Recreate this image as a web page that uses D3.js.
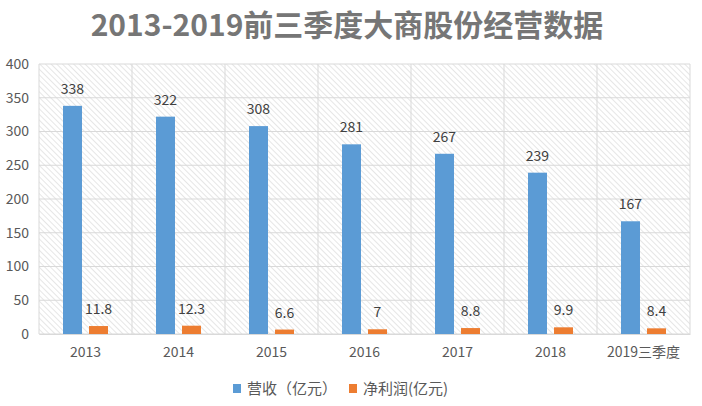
<!DOCTYPE html>
<html>
<head>
<meta charset="utf-8">
<script src="https://cdn.jsdelivr.net/npm/d3@7"></script>
<style>
  body { margin: 0; background: #fff; }
  svg text { font-family: "Noto Sans CJK SC", "Noto Sans", sans-serif; }
  .tick text { fill: #595959; font-size: 14px; }
  .bar-label { fill: #404040; font-size: 14px; text-anchor: middle; }
  .legend-text { fill: #595959; font-size: 15px; }
</style>
</head>
<body>
<script>
// data
const categories = ["2013", "2014", "2015", "2016", "2017", "2018", "2019三季度"];
const revenue = [338, 322, 308, 281, 267, 239, 167];
const profit = [11.8, 12.3, 6.6, 7, 8.8, 9.9, 8.4];
const seriesNames = ["营收（亿元）", "净利润(亿元)"];
const yTicks = [0, 50, 100, 150, 200, 250, 300, 350, 400];

const width = 702, height = 406,
  margin = {top: 64, right: 12, bottom: 72, left: 39};
const colors = ["#5b9bd5", "#ed7d31"];

const svg = d3.select("body").append("svg")
  .attr("width", width)
  .attr("height", height);

// diagonal hatch for the plot background
const defs = svg.append("defs");
const pat = defs.append("pattern")
  .attr("id", "hatch")
  .attr("patternUnits", "userSpaceOnUse")
  .attr("width", 4)
  .attr("height", 4)
  .attr("patternTransform", "rotate(-45)");
pat.append("rect").attr("width", 4).attr("height", 4).attr("fill", "#fff");
pat.append("line")
  .attr("x1", 0).attr("y1", 0).attr("x2", 0).attr("y2", 4)
  .attr("stroke", "#d9d9d9").attr("stroke-width", 1.3);

const innerW = width - margin.left - margin.right,
  innerH = height - margin.top - margin.bottom;

const g = svg.append("g").attr("transform", `translate(${margin.left},${margin.top})`);

let x0 = d3.scaleBand().domain(categories).range([0, innerW]).paddingInner(0).paddingOuter(0);
let x1 = d3.scaleBand().domain([0, 1]).range([24, x0.bandwidth() - 24]).paddingInner(0.27);
let y = d3.scaleLinear().domain([0, 400]).range([innerH, 0]);

g.append("rect")
  .attr("width", innerW).attr("height", innerH)
  .attr("fill", "url(#hatch)");

// horizontal gridlines
g.selectAll(".hgrid").data(yTicks).enter().append("line")
  .attr("x1", 0).attr("x2", innerW)
  .attr("y1", d => y(d)).attr("y2", d => y(d))
  .attr("stroke", "#d9d9d9").attr("stroke-width", 1);

// vertical gridlines at category edges
g.selectAll(".vgrid").data(categories.concat(["end"])).enter().append("line")
  .attr("x1", (d, i) => i * x0.step()).attr("x2", (d, i) => i * x0.step())
  .attr("y1", 0).attr("y2", innerH)
  .attr("stroke", "#d9d9d9").attr("stroke-width", 1);

const groups = g.selectAll(".cat").data(categories).enter().append("g")
  .attr("transform", d => `translate(${x0(d)},0)`);

[revenue, profit].forEach((vals, s) => {
  groups.append("rect")
    .attr("x", x1(s))
    .attr("y", (d, i) => y(vals[i]))
    .attr("width", x1.bandwidth())
    .attr("height", (d, i) => innerH - y(vals[i]))
    .attr("fill", colors[s]);
  groups.append("text")
    .attr("class", "bar-label")
    .attr("x", x1(s) + x1.bandwidth() / 2)
    .attr("y", (d, i) => y(vals[i]) - 12)
    .text((d, i) => vals[i]);
});

// axes
const xAxis = g.append("g")
  .attr("transform", `translate(0,${innerH})`)
  .call(d3.axisBottom(x0).tickSize(0).tickPadding(13));
xAxis.select(".domain").attr("stroke", "#d9d9d9");

const yAxis = g.append("g")
  .call(d3.axisLeft(y).tickValues(yTicks).tickSize(0).tickPadding(10));
yAxis.select(".domain").remove();

// title
svg.append("text")
  .attr("x", 347).attr("y", 36)
  .attr("text-anchor", "middle")
  .attr("fill", "#767676")
  .style("font-size", "30px")
  .style("font-weight", "bold")
  .text("2013-2019前三季度大商股份经营数据");

// legend
const legendX = [233, 349];
seriesNames.forEach((name, i) => {
  svg.append("rect")
    .attr("x", legendX[i]).attr("y", 384)
    .attr("width", 8).attr("height", 9)
    .attr("fill", colors[i]);
  svg.append("text")
    .attr("class", "legend-text")
    .attr("x", legendX[i] + 14).attr("y", 394)
    .text(name);
});
</script>
</body>
</html>
